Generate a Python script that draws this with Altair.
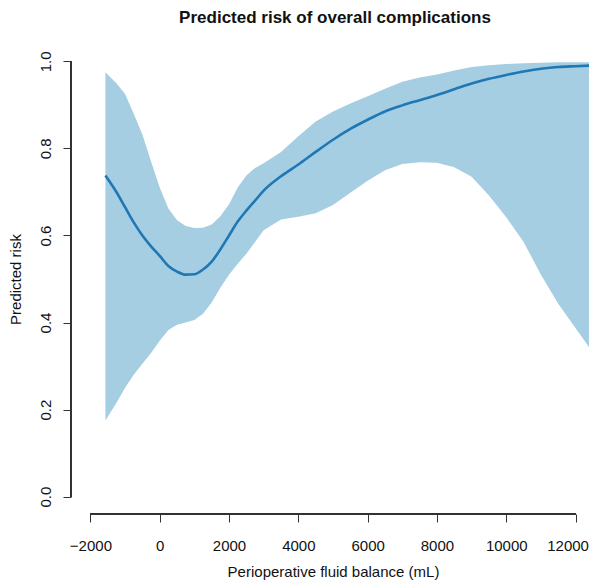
import altair as alt
import pandas as pd

# Perioperative fluid balance (mL)
fluid = [-1567, -1250, -1000, -750, -500, -250, 0, 250, 500, 750, 1000, 1250, 1500,
         1750, 2000, 2250, 2500, 2750, 3000, 3500, 4000, 4500, 5000, 5500, 6000,
         6500, 7000, 7500, 8000, 8500, 9000, 9500, 10000, 10500, 11000, 11500,
         12000, 12600]
# Predicted risk (fit)
risk = [0.738, 0.700, 0.665, 0.630, 0.600, 0.575, 0.553, 0.530, 0.517, 0.510,
        0.511, 0.522, 0.540, 0.568, 0.600, 0.632, 0.657, 0.680, 0.703, 0.736,
        0.763, 0.792, 0.820, 0.845, 0.866, 0.885, 0.899, 0.911, 0.923, 0.936,
        0.949, 0.960, 0.969, 0.977, 0.983, 0.987, 0.989, 0.991]
# Upper confidence limit
upper = [0.975, 0.950, 0.925, 0.880, 0.832, 0.770, 0.710, 0.662, 0.635, 0.622,
         0.617, 0.618, 0.625, 0.644, 0.672, 0.710, 0.738, 0.755, 0.766, 0.792,
         0.828, 0.862, 0.885, 0.903, 0.920, 0.937, 0.953, 0.963, 0.970, 0.979,
         0.987, 0.991, 0.994, 0.996, 0.997, 0.998, 0.998, 0.998]
# Lower confidence limit
lower = [0.175, 0.215, 0.250, 0.280, 0.305, 0.330, 0.358, 0.383, 0.395, 0.400,
         0.406, 0.420, 0.446, 0.480, 0.510, 0.535, 0.558, 0.585, 0.612, 0.637,
         0.643, 0.651, 0.670, 0.698, 0.726, 0.750, 0.764, 0.768, 0.767, 0.757,
         0.735, 0.692, 0.642, 0.585, 0.510, 0.443, 0.387, 0.320]

x_ticks = [-2000, 0, 2000, 4000, 6000, 8000, 10000, 12000]
y_ticks = [0.0, 0.2, 0.4, 0.6, 0.8, 1.0]
title_text = ["Predicted risk of overall complications"]

df = pd.DataFrame({"fluid": fluid, "risk": risk, "upper": upper, "lower": lower})
tdf = pd.DataFrame({"t": title_text})

W, H = 518, 470
FONT = "Liberation Sans"
AXIS_COLOR = "#333333"
TEXT_COLOR = "#111111"

xscale = alt.Scale(domain=[-2560, 12387], nice=False, zero=False)
yscale = alt.Scale(domain=[-0.04, 1.04], nice=False, zero=False)

xaxis = alt.Axis(values=x_ticks, format="d", domain=False, grid=False,
                 tickSize=8, tickColor=AXIS_COLOR, tickWidth=1,
                 labelFont=FONT, labelFontSize=15, labelColor=TEXT_COLOR,
                 labelBaseline="alphabetic", labelPadding=28, labelFlush=False,
                 labelOverlap=False,
                 labelOffset={"condition": {"test": "datum.value === 12000",
                                            "value": -8},
                              "value": 0},
                 title="Perioperative fluid balance (mL)", titleFont=FONT,
                 titleFontSize=15, titleFontWeight="normal", titleColor=TEXT_COLOR,
                 titleBaseline="alphabetic", titleX=262, titleY=62,
                 titleAlign="center")
yaxis = alt.Axis(values=y_ticks, format=".1f", domain=False, grid=False,
                 tickSize=8, tickColor=AXIS_COLOR, tickWidth=1,
                 labelFont=FONT, labelFontSize=15, labelColor=TEXT_COLOR,
                 labelAngle=270, labelAlign="center", labelBaseline="alphabetic",
                 labelPadding=13, labelFlush=False, labelOverlap=False,
                 title="Predicted risk", titleFont=FONT, titleFontSize=15,
                 titleFontWeight="normal", titleColor=TEXT_COLOR,
                 titleAngle=270, titleAlign="center", titleBaseline="alphabetic",
                 titleX=-51, titleY=H / 2)

band = alt.Chart(df).mark_area(color="#A6CEE3", opacity=1, clip=True).encode(
    x=alt.X("fluid:Q", scale=xscale, axis=xaxis),
    y=alt.Y("lower:Q", scale=yscale, axis=yaxis),
    y2="upper:Q",
)

line = alt.Chart(df).mark_line(color="#1F78B4", strokeWidth=2.6, clip=True,
                               interpolate="monotone").encode(
    x=alt.X("fluid:Q", scale=xscale),
    y=alt.Y("risk:Q", scale=yscale),
)

x_domain = alt.Chart(df).mark_rule(color=AXIS_COLOR, strokeWidth=1).encode(
    x=alt.datum(-2000, scale=xscale),
    x2=alt.datum(12000),
    y=alt.value(H),
)

y_domain = alt.Chart(df).mark_rule(color=AXIS_COLOR, strokeWidth=1).encode(
    y=alt.datum(0.0, scale=yscale),
    y2=alt.datum(1.0),
    x=alt.value(0),
)

title = alt.Chart(tdf).mark_text(
    font=FONT, fontSize=17, fontWeight="bold", color=TEXT_COLOR,
    align="center", baseline="alphabetic",
).encode(
    text="t:N",
    x=alt.value(264),
    y=alt.value(-21),
)

chart = alt.layer(band, line, x_domain, y_domain, title).properties(
    width=W,
    height=H,
    autosize=alt.AutoSizeParams(type="none"),
    padding={"left": 63, "top": 36, "right": 0, "bottom": 66},
).configure_view(stroke=None)

chart.save("out.html", embed_options={"renderer": "svg", "actions": False})
